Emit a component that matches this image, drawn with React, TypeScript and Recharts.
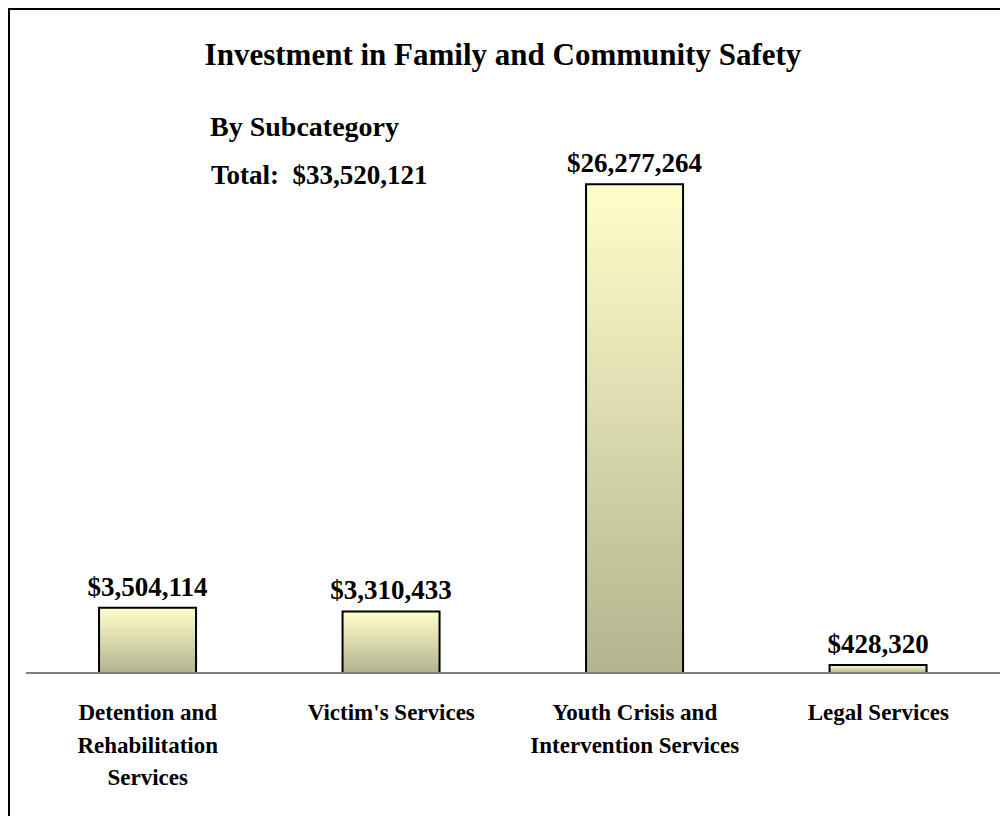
import React from 'react'
import { BarChart, Bar, XAxis, YAxis, LabelList } from 'recharts'

const categories = [
  'Detention and\nRehabilitation\nServices',
  "Victim's Services",
  'Youth Crisis and\nIntervention Services',
  'Legal Services',
]
const amounts = [3504114, 3310433, 26277264, 428320]

const data = categories.map((name, i) => ({ name, value: amounts[i] }))

const FONT = '"Liberation Serif", "Times New Roman", serif'

const money = (v: number) => '$' + v.toLocaleString('en-US')

const CategoryTick = (props: any) => {
  const { x, y, payload } = props
  const lines = String(payload.value).split('\n')
  return (
    <g transform={`translate(${x},${y})`}>
      {lines.map((line, i) => (
        <text
          key={i}
          x={0}
          y={39 + i * 32.5}
          textAnchor="middle"
          fontFamily={FONT}
          fontWeight="bold"
          fontSize={23}
          fill="#000"
        >
          {line}
        </text>
      ))}
    </g>
  )
}

const App = () => {
  return (
    <div style={{ position: 'relative', width: 1000, height: 808, fontFamily: FONT }}>
      <div
        style={{
          position: 'absolute',
          left: 0,
          top: 0,
          width: 1000,
          height: 808,
          borderTop: '2px solid #000',
          borderLeft: '2px solid #000',
          boxSizing: 'border-box',
        }}
      />
      <div
        style={{
          position: 'absolute',
          left: 0,
          width: 990,
          top: 29,
          textAlign: 'center',
          fontSize: 31,
          fontWeight: 'bold',
        }}
      >
        Investment in Family and Community Safety
      </div>
      <div style={{ position: 'absolute', left: 202, top: 103, fontSize: 28, fontWeight: 'bold' }}>
        By Subcategory
      </div>
      <div style={{ position: 'absolute', left: 203, top: 152, fontSize: 27, fontWeight: 'bold', whiteSpace: 'pre' }}>
        {'Total:  ' + money(33520121)}
      </div>
      <BarChart
        width={1000}
        height={808}
        data={data}
        margin={{ top: 107, right: 8, left: 18, bottom: 0 }}
        barCategoryGap="30%"
      >
        <defs>
          <linearGradient id="barFill" x1="0" y1="0" x2="0" y2="1">
            <stop offset="0%" stopColor="#FFFFCC" />
            <stop offset="100%" stopColor="#B3B38E" />
          </linearGradient>
        </defs>
        <XAxis
          dataKey="name"
          height={143}
          tickLine={false}
          axisLine={{ stroke: '#808080', strokeWidth: 2 }}
          tick={<CategoryTick />}
          interval={0}
        />
        <YAxis hide domain={[0, 30000000]} />
        <Bar
          dataKey="value"
          fill="url(#barFill)"
          stroke="#000"
          strokeWidth={2}
          isAnimationActive={false}
        >
          <LabelList
            dataKey="value"
            position="top"
            offset={12}
            formatter={(v: any) => money(Number(v))}
            fontFamily={FONT}
            fontWeight="bold"
            fontSize={27}
            fill="#000"
          />
        </Bar>
      </BarChart>
    </div>
  )
}

export default App
